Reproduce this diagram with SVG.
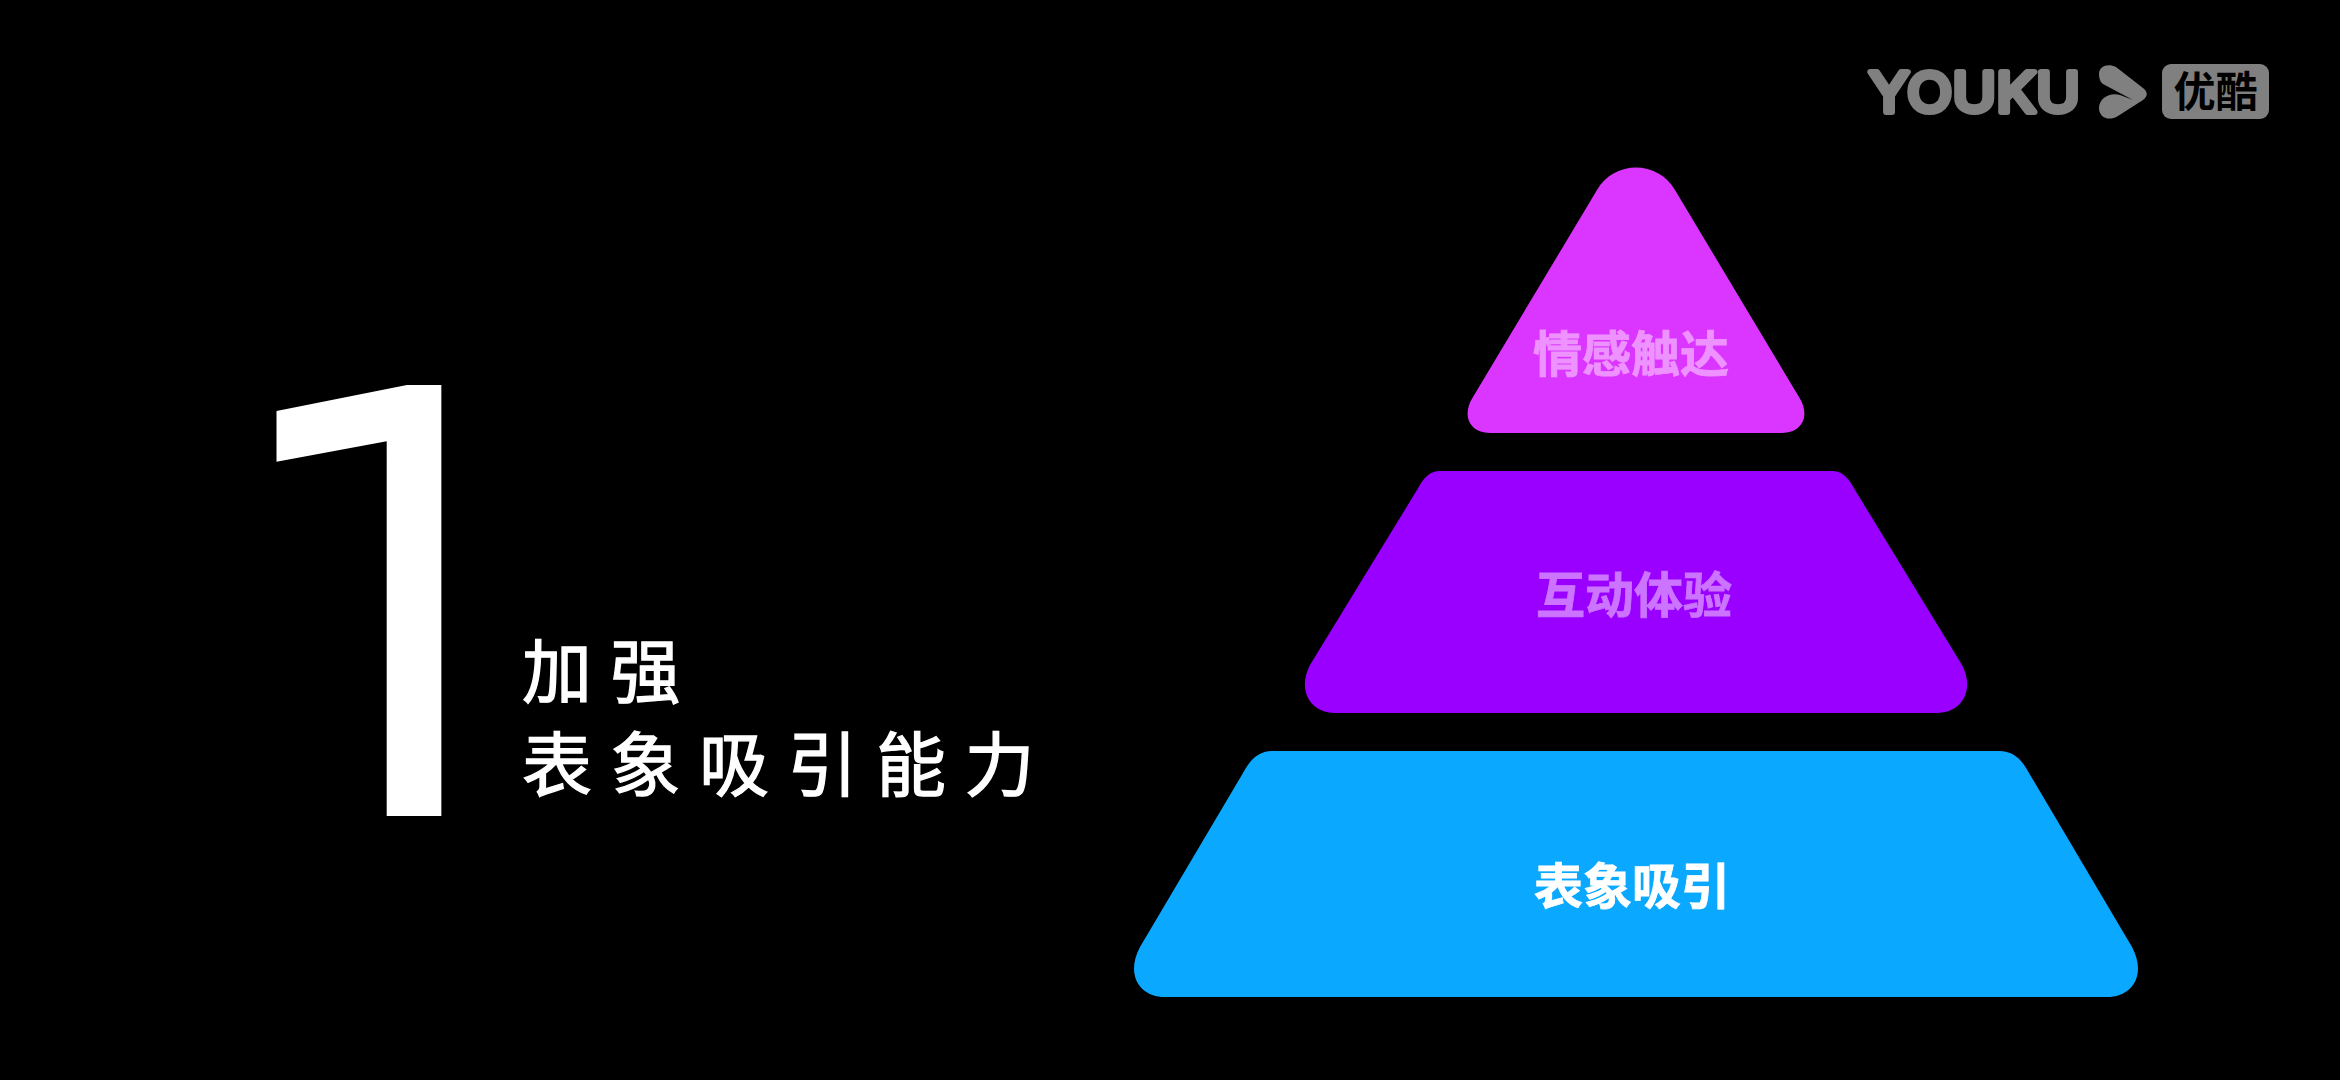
<svg xmlns="http://www.w3.org/2000/svg" width="2340" height="1080" viewBox="0 0 2340 1080">
<style>
text{font-family:"Noto Sans CJK SC","Noto Sans",sans-serif}
.lbl{font-size:49px;font-weight:700;text-anchor:middle;stroke-width:.8px}
.head{font-size:70px;fill:#fff;stroke:#fff;stroke-width:1.300px;font-weight:400;letter-spacing:18.500px}
.num{font-family:Roboto,sans-serif;font-size:605px;font-weight:430;fill:#fff}
.grey{fill:#808080}
</style>
<defs><clipPath id="numclip"><rect x="200" y="385" width="300" height="431"/></clipPath></defs>
<rect width="2340" height="1080" fill="#000"/>
<g id="numeral" clip-path="url(#numclip)"><text class="num" transform="matrix(1 .19 0 1.030 226 786)">1</text></g>
<g id="heading"><text class="head" x="522" y="698">加强</text><text class="head" x="522" y="791">表象吸引能力</text></g>
<g id="logo">
<text class="grey" x="1869" y="112" textLength="211" lengthAdjust="spacingAndGlyphs" style='font-family:Inter,sans-serif;font-size:55px;font-weight:400' stroke="#808080" stroke-width="6" stroke-linejoin="round">YOUKU</text>
<path class="grey" d="M2099 74C2099 66 2108 63 2116 67L2143 88C2148 92 2148 96 2143 100L2118 116C2108 122 2099 117 2099 108C2099 98 2110 92 2120 95L2133 100L2103 84C2100 82 2099 78 2099 74Z"/>
<rect class="grey" x="2162" y="64" width="107" height="55" rx="9"/>
<text x="2215.500" y="107" text-anchor="middle" style="font-size:42px;font-weight:700" fill="#000">优酷</text>
</g>
<g id="tier-top"><path d="M1597 190C1614 160 1658 160 1675 190L1799 397C1811 416 1802 433 1782 433L1490 433C1470 433 1461 416 1473 397Z" fill="#db36ff"/><text class="lbl" x="1631" y="372" fill="#ee92ff" stroke="#ee92ff">情感触达</text></g>
<g id="tier-middle"><path d="M1417 490C1424 477 1430 471 1440 471L1832 471C1842 471 1848 477 1855 490L1962 665C1975 690 1962 713 1937 713L1335 713C1310 713 1297 690 1310 665Z" fill="#9900ff"/><text class="lbl" x="1634" y="613" fill="#cc74ff" stroke="#cc74ff">互动体验</text></g>
<g id="tier-bottom"><path d="M1243 773C1250 760 1258 751 1273 751L1999 751C2014 751 2022 760 2029 773L2132 947C2147 975 2132 997 2107 997L1165 997C1140 997 1125 975 1140 947Z" fill="#0aa9ff"/><text class="lbl" x="1632" y="904" fill="#fff" stroke="#fff">表象吸引</text></g>
</svg>
